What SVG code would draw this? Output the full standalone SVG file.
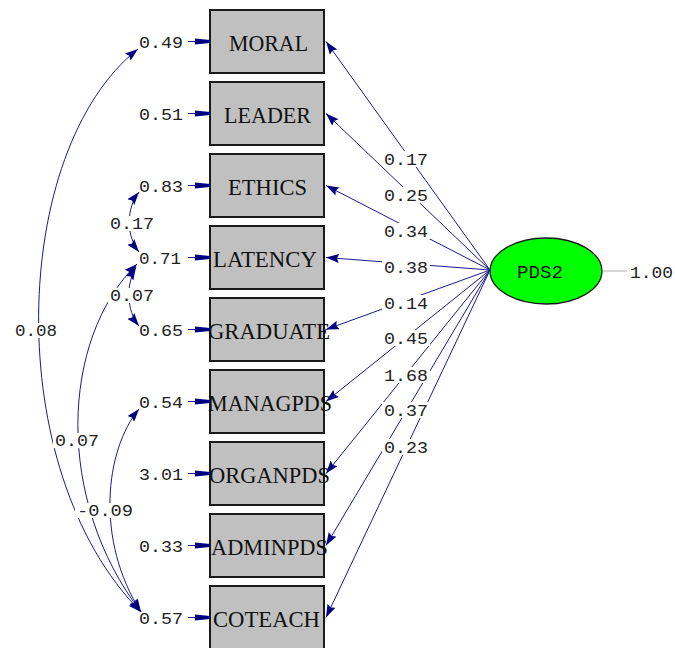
<svg xmlns="http://www.w3.org/2000/svg" width="675" height="648" viewBox="0 0 675 648">
<style>
.box{fill:#c0c0c0;stroke:#1a1a1a;stroke-width:2}
.bl{font-family:"Liberation Serif","Times New Roman",serif;font-size:23px;fill:#111}
.num{font-family:"Liberation Mono","Courier New",monospace;font-size:16px;fill:#222}
.ln{stroke:#1a1a90;stroke-width:1;fill:none}
.bg{fill:#fff}
</style>
<defs>
<marker id="ah" markerUnits="userSpaceOnUse" viewBox="0 0 13 9" refX="13" refY="4.5" markerWidth="13" markerHeight="9" orient="auto-start-reverse">
<path d="M0,0 L13,4.5 L0,9 L2,4.5 z" fill="#000080"/>
</marker>
<marker id="eh" markerUnits="userSpaceOnUse" viewBox="0 0 15 7" refX="15" refY="3.5" markerWidth="15" markerHeight="7" orient="auto">
<path d="M0,0.5 L15,2 L15,5 L0,6.5 z" fill="#000080"/>
</marker>
</defs>
<rect width="675" height="648" fill="#fff"/>

<g id="MORAL"><rect class="box" x="210" y="10" width="114" height="63"/><text class="bl" x="229" y="50.5" textLength="79" lengthAdjust="spacingAndGlyphs">MORAL</text></g>
<g id="LEADER"><rect class="box" x="210" y="82" width="114" height="63"/><text class="bl" x="224" y="122.5" textLength="87" lengthAdjust="spacingAndGlyphs">LEADER</text></g>
<g id="ETHICS"><rect class="box" x="210" y="154" width="114" height="63"/><text class="bl" x="228" y="194.5" textLength="79" lengthAdjust="spacingAndGlyphs">ETHICS</text></g>
<g id="LATENCY"><rect class="box" x="210" y="226" width="114" height="63"/><text class="bl" x="213" y="266.5" textLength="104" lengthAdjust="spacingAndGlyphs">LATENCY</text></g>
<g id="GRADUATE"><rect class="box" x="210" y="298" width="114" height="63"/><text class="bl" x="208" y="338.5" textLength="122" lengthAdjust="spacingAndGlyphs">GRADUATE</text></g>
<g id="MANAGPDS"><rect class="box" x="210" y="370" width="114" height="63"/><text class="bl" x="208" y="410.5" textLength="124" lengthAdjust="spacingAndGlyphs">MANAGPDS</text></g>
<g id="ORGANPDS"><rect class="box" x="210" y="442" width="114" height="63"/><text class="bl" x="209" y="482.5" textLength="121" lengthAdjust="spacingAndGlyphs">ORGANPDS</text></g>
<g id="ADMINPDS"><rect class="box" x="210" y="514" width="114" height="63"/><text class="bl" x="211" y="554.5" textLength="117" lengthAdjust="spacingAndGlyphs">ADMINPDS</text></g>
<g id="COTEACH"><rect class="box" x="210" y="586" width="114" height="63"/><text class="bl" x="213" y="626.5" textLength="107" lengthAdjust="spacingAndGlyphs">COTEACH</text></g>

<g id="PDS2"><ellipse cx="546" cy="271" rx="56" ry="33" fill="#00ff00" stroke="#1a1a1a" stroke-width="1.3"/><text class="num" x="517" y="277.5" textLength="46" lengthAdjust="spacingAndGlyphs" style="font-size:18px;fill:#111">PDS2</text></g>

<g id="connectors">
<g class="paths">
<line class="ln" x1="490" y1="270" x2="326" y2="41.5" marker-end="url(#ah)"/>
<line class="ln" x1="490" y1="270" x2="326" y2="113.5" marker-end="url(#ah)"/>
<line class="ln" x1="490" y1="270" x2="326" y2="185.5" marker-end="url(#ah)"/>
<line class="ln" x1="490" y1="270" x2="326" y2="257.5" marker-end="url(#ah)"/>
<line class="ln" x1="490" y1="270" x2="326" y2="329.5" marker-end="url(#ah)"/>
<line class="ln" x1="490" y1="270" x2="326" y2="401.5" marker-end="url(#ah)"/>
<line class="ln" x1="490" y1="270" x2="326" y2="473.5" marker-end="url(#ah)"/>
<line class="ln" x1="490" y1="270" x2="326" y2="545.5" marker-end="url(#ah)"/>
<line class="ln" x1="490" y1="270" x2="326" y2="617.5" marker-end="url(#ah)"/>
<line x1="603" y1="271" x2="627" y2="271" stroke="#b0b0b0" stroke-width="1"/>
</g>
<g class="pathlabels">
<rect class="bg" x="382" y="151" width="48" height="16"/><text class="num" x="384" y="165" textLength="44" lengthAdjust="spacingAndGlyphs">0.17</text>
<rect class="bg" x="382" y="187" width="48" height="16"/><text class="num" x="384" y="201" textLength="44" lengthAdjust="spacingAndGlyphs">0.25</text>
<rect class="bg" x="382" y="223" width="48" height="16"/><text class="num" x="384" y="237" textLength="44" lengthAdjust="spacingAndGlyphs">0.34</text>
<rect class="bg" x="382" y="259" width="48" height="16"/><text class="num" x="384" y="273" textLength="44" lengthAdjust="spacingAndGlyphs">0.38</text>
<rect class="bg" x="382" y="295" width="48" height="16"/><text class="num" x="384" y="309" textLength="44" lengthAdjust="spacingAndGlyphs">0.14</text>
<rect class="bg" x="382" y="330" width="48" height="16"/><text class="num" x="384" y="344" textLength="44" lengthAdjust="spacingAndGlyphs">0.45</text>
<rect class="bg" x="382" y="367" width="48" height="16"/><text class="num" x="384" y="381" textLength="44" lengthAdjust="spacingAndGlyphs">1.68</text>
<rect class="bg" x="382" y="402" width="48" height="16"/><text class="num" x="384" y="416" textLength="44" lengthAdjust="spacingAndGlyphs">0.37</text>
<rect class="bg" x="382" y="439" width="48" height="16"/><text class="num" x="384" y="453" textLength="44" lengthAdjust="spacingAndGlyphs">0.23</text>
<text class="num" x="630" y="278" textLength="43" lengthAdjust="spacingAndGlyphs">1.00</text>
</g>
<g class="errors">
<line class="ln" x1="188" y1="41.5" x2="210" y2="41.5" marker-end="url(#eh)"/>
<line class="ln" x1="188" y1="113.5" x2="210" y2="113.5" marker-end="url(#eh)"/>
<line class="ln" x1="188" y1="185.5" x2="210" y2="185.5" marker-end="url(#eh)"/>
<line class="ln" x1="188" y1="257.5" x2="210" y2="257.5" marker-end="url(#eh)"/>
<line class="ln" x1="188" y1="329.5" x2="210" y2="329.5" marker-end="url(#eh)"/>
<line class="ln" x1="188" y1="401.5" x2="210" y2="401.5" marker-end="url(#eh)"/>
<line class="ln" x1="188" y1="473.5" x2="210" y2="473.5" marker-end="url(#eh)"/>
<line class="ln" x1="188" y1="545.5" x2="210" y2="545.5" marker-end="url(#eh)"/>
<line class="ln" x1="188" y1="617.5" x2="210" y2="617.5" marker-end="url(#eh)"/>
<text class="num" x="139" y="48" textLength="44" lengthAdjust="spacingAndGlyphs">0.49</text>
<text class="num" x="139" y="120" textLength="44" lengthAdjust="spacingAndGlyphs">0.51</text>
<text class="num" x="139" y="192" textLength="44" lengthAdjust="spacingAndGlyphs">0.83</text>
<text class="num" x="139" y="264" textLength="42" lengthAdjust="spacingAndGlyphs">0.71</text>
<text class="num" x="139" y="336" textLength="44" lengthAdjust="spacingAndGlyphs">0.65</text>
<text class="num" x="139" y="408" textLength="44" lengthAdjust="spacingAndGlyphs">0.54</text>
<text class="num" x="139" y="480" textLength="44" lengthAdjust="spacingAndGlyphs">3.01</text>
<text class="num" x="139" y="552" textLength="44" lengthAdjust="spacingAndGlyphs">0.33</text>
<text class="num" x="139" y="624" textLength="44" lengthAdjust="spacingAndGlyphs">0.57</text>
</g>
<g class="covariances">
<path class="ln" d="M138,49 C10,150 0,470 141,612" marker-start="url(#ah)" marker-end="url(#ah)"/>
<path class="ln" d="M137,264 C60,340 55,500 141,612" marker-start="url(#ah)" marker-end="url(#ah)"/>
<path class="ln" d="M139,409 C105,450 95,540 141,612" marker-start="url(#ah)" marker-end="url(#ah)"/>
<path class="ln" d="M139,192 C126,208 126,236 139,252" marker-start="url(#ah)" marker-end="url(#ah)"/>
<path class="ln" d="M136,267 C126,284 126,310 139,326" marker-start="url(#ah)" marker-end="url(#ah)"/>
<rect class="bg" x="13" y="323" width="46" height="15"/><text class="num" x="15" y="336" textLength="42" lengthAdjust="spacingAndGlyphs">0.08</text>
<rect class="bg" x="53" y="433" width="48" height="15"/><text class="num" x="55" y="446" textLength="44" lengthAdjust="spacingAndGlyphs">0.07</text>
<rect class="bg" x="75" y="503" width="60" height="15"/><text class="num" x="77" y="516" textLength="56" lengthAdjust="spacingAndGlyphs">-0.09</text>
<rect class="bg" x="108" y="216" width="48" height="15"/><text class="num" x="110" y="229" textLength="44" lengthAdjust="spacingAndGlyphs">0.17</text>
<rect class="bg" x="108" y="288" width="48" height="15"/><text class="num" x="110" y="301" textLength="44" lengthAdjust="spacingAndGlyphs">0.07</text>
</g>
</g>
</svg>
